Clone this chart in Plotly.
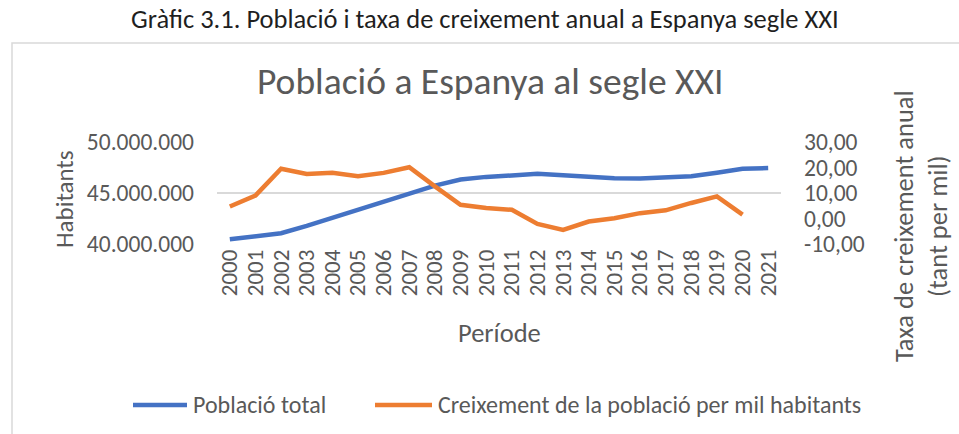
import plotly.graph_objects as go

years = [str(y) for y in range(2000, 2022)]
poblacio = [40.46e6, 40.72e6, 41.06e6, 41.78e6, 42.57e6, 43.36e6, 44.15e6, 44.94e6,
            45.73e6, 46.32e6, 46.58e6, 46.72e6, 46.88e6, 46.74e6, 46.55e6, 46.45e6,
            46.42e6, 46.55e6, 46.64e6, 46.98e6, 47.37e6, 47.44e6]
creixement = [4.7, 9.0, 19.5, 17.5, 17.9, 16.6, 17.9, 20.1, 12.6, 5.4, 4.1, 3.4,
              -2.1, -4.5, -1.2, 0.1, 2.1, 3.2, 6.1, 8.7, 1.5, None]
left_ticks = [40e6, 45e6, 50e6]
left_ticklabels = ["40.000.000", "45.000.000", "50.000.000"]
right_ticks = [-10, 0, 10, 20, 30]
right_ticklabels = ["-10,00", "0,00", "10,00", "20,00", "30,00"]
series_names = ["Població total", "Creixement de la població per mil habitants"]
series_colors = ["#4472C4", "#ED7D31"]

FONT = "Carlito, Calibri, Lato, sans-serif"
GRAY = "#595959"

W, H = 959, 434
X0, X1, Y0, Y1 = 217, 781, 142, 244  # plot area in px
L, R, T, B = X0, W - X1, Y0, H - Y1
pw, ph = W - L - R, H - T - B


def px(x):
    return (x - L) / pw


def py(y):
    return (H - B - y) / ph


fig = go.Figure()
fig.add_trace(go.Scatter(x=years, y=poblacio, mode="lines", name=series_names[0],
                         line=dict(color=series_colors[0], width=4.5), yaxis="y"))
fig.add_trace(go.Scatter(x=years, y=creixement, mode="lines", name=series_names[1],
                         line=dict(color=series_colors[1], width=4.5), yaxis="y2"))

fig.update_layout(
    width=W, height=H,
    margin=dict(l=L, r=R, t=T, b=B, pad=0),
    paper_bgcolor="white", plot_bgcolor="white",
    font=dict(family=FONT, color=GRAY, size=23.5),
    showlegend=False,
    xaxis=dict(type="category", range=[-0.5, 21.5], tickangle=-90,
               tickmode="array", tickvals=years, ticktext=years,
               showgrid=False, showline=False, ticks="", tickfont=dict(size=23, color=GRAY),
               zeroline=False),
    yaxis=dict(range=[40e6, 50e6], tickvals=left_ticks, ticktext=left_ticklabels,
               showgrid=True, gridcolor="#D9D9D9", gridwidth=1.5, zeroline=False,
               showline=False, ticks="", ticklabelstandoff=22,
               tickfont=dict(size=23.5, color=GRAY)),
    yaxis2=dict(range=[-10, 30], tickvals=right_ticks, ticktext=right_ticklabels,
                overlaying="y", side="right", showgrid=False, zeroline=False,
                showline=False, ticks="", ticklabelstandoff=22,
                tickfont=dict(size=23.5, color=GRAY)),
)

annotations = [
    dict(text="Gràfic 3.1. Població i taxa de creixement anual a Espanya segle XXI",
         x=px(485), y=py(19), font=dict(size=26.5, color="#1F1F1F")),
    dict(text="Població a Espanya al segle XXI", x=px(490), y=py(81), font=dict(size=37.5, color=GRAY)),
    dict(text="Habitants", x=px(64), y=py(199), textangle=-90, font=dict(size=25, color=GRAY)),
    dict(text="Taxa de creixement anual<br>(tant per mil)", x=px(921), y=py(226), textangle=-90,
         font=dict(size=26.5, color=GRAY)),
    dict(text="Període", x=px(499), y=py(333), font=dict(size=26.5, color=GRAY)),
]
# manual legend
leg_y = 405
leg_items = [(133, 187, 191), (375, 432, 436)]
for (lx0, lx1, tx), name, col in zip(leg_items, series_names, series_colors):
    fig.add_shape(type="line", xref="paper", yref="paper", x0=px(lx0), x1=px(lx1),
                  y0=py(leg_y), y1=py(leg_y), line=dict(color=col, width=4.5))
    annotations.append(dict(text=name, x=px(tx), y=py(leg_y - 1), xanchor="left",
                            font=dict(size=24, color=GRAY)))

for a in annotations:
    a.setdefault("xanchor", "center")
    a.update(xref="paper", yref="paper", showarrow=False, yanchor="middle")
fig.update_layout(annotations=annotations)

fig.add_shape(type="rect", xref="paper", yref="paper",
              x0=px(12), x1=px(975), y0=py(450), y1=py(43),
              line=dict(color="#D9D9D9", width=1.5), fillcolor="rgba(0,0,0,0)", layer="below")

# remove the browser's default 8px body margin so the figure fills the window
fig.write_html("out.html", config={"displayModeBar": False},
               post_script="document.body.style.margin='0px';")
